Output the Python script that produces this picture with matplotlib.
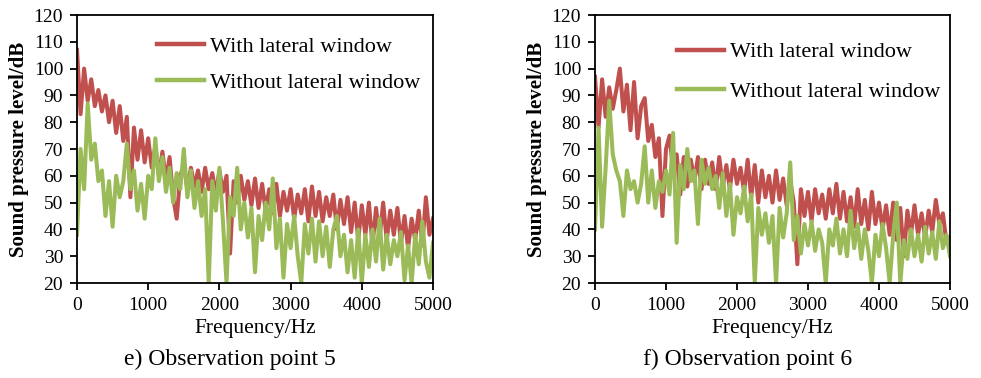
import numpy as np
import matplotlib
matplotlib.use("Agg")
import matplotlib.pyplot as plt

plt.rcParams['font.family'] = ['Liberation Serif', 'DejaVu Serif']

# frequency grid (Hz), one reading every 50 Hz
freq = np.arange(0, 5001, 50)

# observation point 5
with_5 = [107, 83, 100, 88, 96, 86, 92, 84, 90, 80, 88, 76, 86, 73, 82, 52, 78, 66, 77, 65,
          74, 63, 71, 60, 69, 58, 67, 52, 44, 60, 64, 55, 63, 56, 62, 54, 63, 55, 61, 53,
          62, 54, 60, 31, 58, 50, 60, 51, 58, 49, 59, 48, 57, 47, 55, 46, 57, 45, 54, 47,
          55, 44, 53, 46, 55, 43, 56, 45, 54, 43, 52, 45, 53, 40, 51, 42, 52, 39, 50, 36,
          49, 38, 50, 34, 48, 37, 50, 36, 47, 38, 48, 35, 45, 33, 44, 36, 47, 34, 52, 38, 44]
without_5 = [38, 70, 55, 87, 66, 72, 58, 62, 45, 58, 41, 60, 52, 58, 72, 55, 62, 47, 57, 44,
             60, 55, 74, 58, 67, 54, 63, 50, 61, 55, 70, 52, 62, 48, 58, 45, 55, 20, 58, 47,
             63, 43, 20, 52, 45, 63, 40, 50, 37, 48, 24, 45, 36, 50, 40, 59, 33, 44, 22, 42,
             33, 45, 30, 20, 42, 31, 44, 28, 43, 30, 41, 26, 40, 45, 30, 38, 24, 36, 22, 40,
             20, 38, 26, 40, 28, 44, 25, 38, 27, 36, 30, 39, 21, 34, 20, 38, 27, 43, 28, 22, 35]

# observation point 6
with_6 = [97, 78, 96, 82, 93, 85, 92, 100, 84, 94, 77, 95, 74, 86, 89, 73, 79, 67, 74, 45,
          70, 75, 62, 68, 53, 67, 56, 66, 58, 67, 55, 66, 57, 65, 55, 67, 56, 64, 55, 66,
          57, 63, 54, 66, 52, 64, 50, 62, 52, 60, 50, 62, 51, 59, 49, 58, 50, 27, 55, 45,
          54, 43, 55, 46, 53, 44, 55, 46, 57, 44, 54, 43, 52, 41, 55, 42, 51, 40, 54, 42,
          50, 40, 49, 38, 50, 36, 48, 30, 47, 38, 49, 38, 46, 37, 47, 39, 51, 42, 46, 35, 37]
without_6 = [40, 78, 41, 63, 88, 68, 62, 58, 45, 62, 55, 58, 50, 57, 71, 50, 62, 48, 58, 54,
             62, 53, 76, 35, 64, 55, 70, 58, 62, 42, 66, 57, 63, 55, 60, 48, 61, 45, 57, 38,
             52, 46, 56, 43, 53, 20, 48, 38, 46, 35, 45, 20, 48, 37, 46, 65, 36, 45, 31, 42,
             34, 43, 32, 40, 35, 20, 40, 34, 44, 31, 40, 30, 47, 33, 42, 29, 40, 32, 20, 38,
             30, 42, 33, 20, 38, 50, 20, 36, 29, 40, 30, 38, 28, 41, 31, 39, 29, 43, 33, 38, 30]

panels = [(with_5, without_5, "e) Observation point 5"),
          (with_6, without_6, "f) Observation point 6")]

RED = '#C0504D'
GREEN = '#9BBB59'

fig = plt.figure(figsize=(9.81, 3.78), dpi=100)
W, H = 981, 378
boxes = [(77, 356), (595, 355)]
leg_x = [0.225, 0.231]
leg_y = [0.92, 0.90]
leg_gap = [0.7, 0.85]
cap_x = [230, 748]

for i, (w_vals, wo_vals, caption) in enumerate(panels):
    x0, aw = boxes[i]
    ax = fig.add_axes([x0 / W, (H - 283) / H, aw / W, 268 / H])
    ax.plot(freq, w_vals, color=RED, lw=2.9, label="With lateral window")
    ax.plot(freq, wo_vals, color=GREEN, lw=2.9, label="Without lateral window")
    ax.set_xlim(0, 5000)
    ax.set_ylim(20, 120)
    ax.set_xticks(range(0, 5001, 1000))
    ax.set_yticks(range(20, 121, 10))
    ax.tick_params(direction='out', length=5, width=1.3, labelsize=14, pad=5)
    for sp in ax.spines.values():
        sp.set_linewidth(1.3)
    ax.set_ylabel("Sound pressure level/dB", fontsize=15, fontweight='bold', labelpad=3)
    ax.set_xlabel("Frequency/Hz", fontsize=15.5, labelpad=4)
    leg = ax.legend(loc='upper left', bbox_to_anchor=(leg_x[i], leg_y[i]), frameon=False,
                    fontsize=16, handlelength=2.1, handletextpad=0.3, labelspacing=leg_gap[i],
                    borderpad=0, borderaxespad=0)
    for h in leg.get_lines():
        h.set_linewidth(3.2)
    fig.text(cap_x[i] / W, 13 / H, caption, ha='center', va='baseline', fontsize=17)

fig.savefig("out.png", dpi=100)
